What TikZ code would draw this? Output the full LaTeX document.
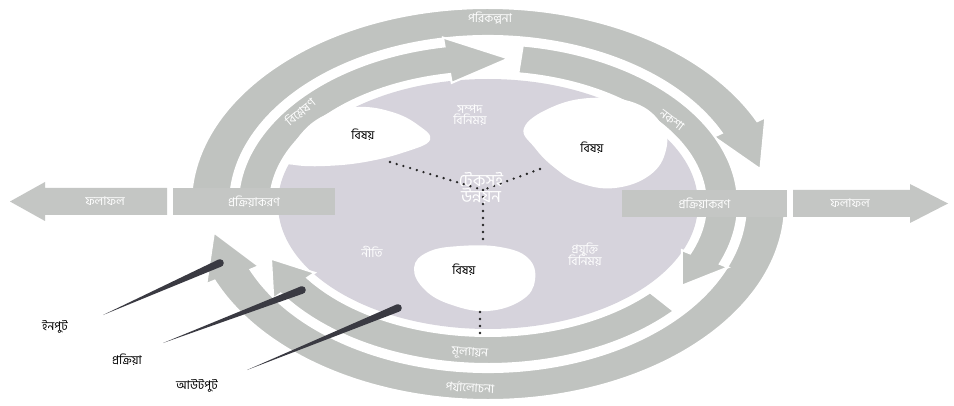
\documentclass[tikz,border=0pt]{standalone}
\usepackage{fontspec}
\usetikzlibrary{calc}
\newfontfamily\bn[Script=Bengali]{Hind Siliguri}
\definecolor{ringcol}{RGB}{192,195,192}
\definecolor{diskcol}{RGB}{214,211,220}
\definecolor{barcol}{RGB}{196,198,196}
\definecolor{cometcol}{RGB}{58,58,66}
\newcommand\ringarrow[8]{%
  \pgfmathsetmacro\rmx{(#4+#6)/2}%
  \pgfmathsetmacro\rmy{(#5+#7)/2}%
  \pgfmathsetmacro\rwox{#6+#8}%
  \pgfmathsetmacro\rwoy{#7+#8}%
  \pgfmathsetmacro\rwix{#4-#8}%
  \pgfmathsetmacro\rwiy{#5-#8}%
  \filldraw[ringband] ($(C)+(#1:#6pt and #7pt)$)
    arc[start angle=#1, end angle=#2, x radius=#6pt, y radius=#7pt]
    -- ($(C)+(#2:\rwox pt and \rwoy pt)$)
    -- ($(C)+(#3:\rmx pt and \rmy pt)$)
    -- ($(C)+(#2:\rwix pt and \rwiy pt)$)
    -- ($(C)+(#2:#4pt and #5pt)$)
    arc[start angle=#2, end angle=#1, x radius=#4pt, y radius=#5pt] -- cycle;}
\tikzset{
  ringband/.style={fill=ringcol, draw=white, line width=2pt, line join=miter},
  wtxt/.style={text=white, font=\bn\fontsize{12}{13}\selectfont, inner sep=1pt, align=center},
  ktxt/.style={text=black, font=\bn\fontsize{12}{14}\selectfont, inner sep=1pt},
  ctxt/.style={text=white, font=\bn\fontsize{17}{18}\selectfont, inner sep=1pt, align=center},
  dotline/.style={line width=2.6pt, line cap=round, dash pattern=on 0pt off 7pt, black!85},
  blobfill/.style={fill=white},
  barfill/.style={fill=barcol},
}
\begin{document}
\begin{tikzpicture}[x=1pt,y=1pt]
\useasboundingbox (0,0) rectangle (954,405);
\fill[white] (0,0) rectangle (954,405);
\coordinate (C) at (488,201);
% inner disk
\fill[diskcol] (C) ellipse [x radius=210pt, y radius=125pt];
% outer ring
\ringarrow{178}{25}{11}{258}{168}{297}{196}{9}
\ringarrow{-3}{-157}{-171}{258}{168}{297}{196}{9}
% middle ring
\ringarrow{183}{100}{85}{218}{132}{250}{160}{9}
\ringarrow{82}{-22}{-34}{218}{132}{250}{160}{9}
\ringarrow{-42}{-146}{-158}{218}{132}{250}{160}{9}
% horizontal bars
\fill[barfill] (167,190) -- (167,217) -- (45,217) -- (45,223) -- (10,203.5) -- (45,184) -- (45,190) -- cycle;
\fill[barfill] (793,188) -- (793,215) -- (910,215) -- (910,221) -- (948,201.5) -- (910,182) -- (910,188) -- cycle;
\node[barfill, minimum width=162pt, minimum height=27pt, inner sep=0pt] (lbar) at (254,203.5) {};
\node[barfill, minimum width=165pt, minimum height=27pt, inner sep=0pt] (rbar) at (704.5,201.5) {};
\node[wtxt] (lout) at (105,203.5) {ফলাফল};
\node[wtxt] (rout) at (850,201.5) {ফলাফল};
\node[wtxt] (lin) at (lbar) {প্রক্রিয়াকরণ};
\node[wtxt] (rin) at (rbar) {প্রক্রিয়াকরণ};
% ring labels
\node[wtxt] (rtop) at (490,387) {পরিকল্পনা};
\node[wtxt, rotate=40] (rtl) at (300,293) {বিশ্লেষণ};
\node[wtxt, rotate=-37] (rtr) at (672,285) {নকশা};
\node[wtxt, rotate=-3] (rbm) at (470,52) {মূল্যায়ন};
\node[wtxt, rotate=-3] (rbo) at (470,18) {পর্যালোচনা};
% blobs
\fill[blobfill] plot[smooth cycle, tension=0.7] coordinates {(288,245) (300,270) (325,290) (358,298) (392,293) (418,280) (430,265) (405,253) (365,243) (325,239) (295,240)};
\fill[blobfill] plot[smooth cycle, tension=0.7] coordinates {(524,277) (550,297) (590,307) (635,302) (662,280) (666,255) (650,230) (615,217) (580,222) (555,237) (535,257)};
\fill[blobfill] plot[smooth cycle, tension=0.7] coordinates {(414,137) (428,153) (460,159) (500,158) (528,147) (535,125) (522,105) (488,94) (452,100) (425,115)};
\node[ktxt] (b1) at (363,270) {বিষয়};
\node[ktxt] (b2) at (592,257) {বিষয়};
\node[ktxt] (b3) at (464,135) {বিষয়};
% dotted links
\coordinate (O) at (483,215);
\coordinate (d1) at (390,243);
\coordinate (d2) at (540,236);
\coordinate (d3) at (483,160);
\coordinate (d4) at (480,93);
\coordinate (d5) at (480,68);
\draw[dotline] (d1) -- (O);
\draw[dotline] (d2) -- (O);
\draw[dotline] (O) -- (d3);
\draw[dotline] (d4) -- (d5);
% disk labels
\node[ctxt] (ctr) at (481,217) {টেকসই\\[-2pt]উন্নয়ন};
\node[wtxt] (dtop) at (470,290) {সম্পদ\\[-2pt]বিনিময়};
\node[wtxt] (dleft) at (372,153) {নীতি};
\node[wtxt] (dright) at (585,150) {প্রযুক্তি\\[-2pt]বিনিময়};
% pointer labels
\node[ktxt] (l1) at (55,78) {ইনপুট};
\node[ktxt] (l2) at (127,45) {প্রক্রিয়া};
\node[ktxt] (l3) at (197,19) {আউটপুট};
\coordinate (t1) at (103,90);  \coordinate (h1) at (220,142);
\coordinate (t2) at (163,62);  \coordinate (h2) at (302,115);
\coordinate (t3) at (247,35);  \coordinate (h3) at (398,97);
\foreach \i in {1,2,3}{
  \fill[cometcol] (t\i) -- ($(h\i)!3.8pt!90:(t\i)$) -- ($(h\i)!3.8pt!-90:(t\i)$) -- cycle;
  \fill[cometcol] (h\i) circle (3.8pt);
}
\end{tikzpicture}
\end{document}
